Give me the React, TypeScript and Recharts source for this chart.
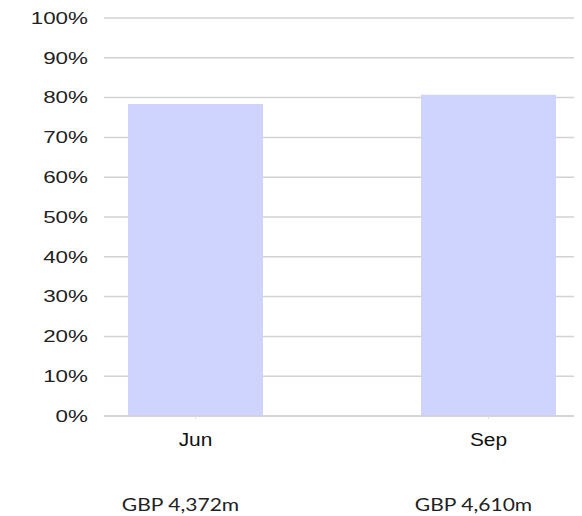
import { BarChart, Bar, XAxis, YAxis, CartesianGrid } from "recharts"

const MONTHS = ["Jun", "Sep"]
const SHARE = [78.4, 80.7]
const TOTALS = ["GBP 4,372m", "GBP 4,610m"]
const Y_TICKS = [0, 10, 20, 30, 40, 50, 60, 70, 80, 90, 100]

const data = MONTHS.map((m, i) => ({ name: m, value: SHARE[i], total: TOTALS[i] }))

const YTick = ({ x, y, payload }: { x?: number; y?: number; payload?: { value: number } }) => (
  <g transform={`translate(${(x ?? 0) - 8},${y ?? 0})`}>
    <text
      textAnchor="end"
      dy="0.36em"
      transform="scale(1.4,1)"
      fill="#222"
      fontSize={16}
      fontFamily="'Liberation Sans', Arial, sans-serif"
    >
      {payload?.value}%
    </text>
  </g>
)

const XTick = ({ x, y, payload, index }: { x?: number; y?: number; payload?: { value: string }; index?: number }) => (
  <g transform={`translate(${x ?? 0},${y ?? 0})`}>
    <text
      textAnchor="middle"
      y={24}
      transform="scale(1.16,1)"
      fill="#111"
      fontSize={18}
      fontFamily="'Liberation Sans', Arial, sans-serif"
    >
      {payload?.value}
    </text>
    <g transform="translate(-15,89)">
      <text
        textAnchor="middle"
        transform="scale(1.17,1)"
        fill="#222"
        fontSize={18}
        fontFamily="Lato, sans-serif"
      >
        {TOTALS[index ?? 0]}
      </text>
    </g>
  </g>
)

export default function App() {
  return (
    <BarChart
      width={574}
      height={508}
      data={data}
      margin={{ top: 10, right: 2, left: 0, bottom: 70 }}
    >
      <CartesianGrid vertical={false} stroke="#d2d2d2" strokeWidth={1.5} />
      <XAxis
        dataKey="name"
        padding={{ left: -55, right: -55 }}
        axisLine={{ stroke: "#d2d2d2", strokeWidth: 1.5 }}
        tickLine={{ stroke: "#e0e0e0" }}
        tickSize={3}
        tickMargin={3}
        tick={<XTick />}
        interval={0}
      />
      <YAxis
        width={96}
        domain={[0, 100]}
        ticks={Y_TICKS}
        axisLine={false}
        tickLine={false}
        tick={<YTick />}
        interval={0}
      />
      <Bar dataKey="value" fill="#CFD4FF" barSize={135} isAnimationActive={false} />
    </BarChart>
  )
}
